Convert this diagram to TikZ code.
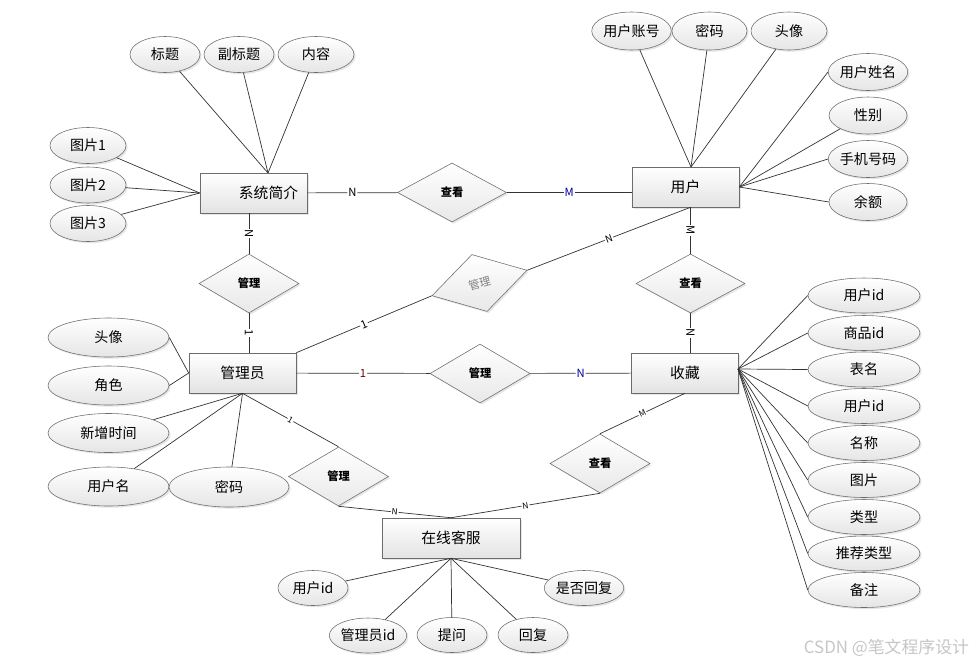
\documentclass[tikz,border=0pt]{standalone}
\usepackage{fontspec}
\setmainfont{Noto Sans CJK SC}
\usetikzlibrary{shapes.geometric,shadows}

\tikzset{
  entity/.style={rectangle,draw=gray!85!black,top color=white,bottom color=gray!22,
    drop shadow={opacity=0.2,shadow xshift=1.2pt,shadow yshift=-1.2pt},
    minimum width=2.675cm,minimum height=1cm,inner sep=0pt,font=\fontsize{10.5}{12}\selectfont},
  attr/.style={ellipse,draw=gray!85!black,top color=white,bottom color=gray!20,
    drop shadow={opacity=0.2,shadow xshift=1.2pt,shadow yshift=-1.2pt},
    minimum width=#1,minimum height=0.9cm,inner sep=0pt,font=\fontsize{10}{12}\selectfont},
  attr/.default=1.9cm,
  rel/.style={diamond,draw=gray!85!black,top color=white,bottom color=gray!18,
    drop shadow={opacity=0.2,shadow xshift=1.2pt,shadow yshift=-1.2pt},
    aspect=1.7,minimum width=2.5cm,minimum height=1.475cm,inner sep=0pt,
    font=\fontsize{8}{10}\selectfont\bfseries},
  card/.style={fill=white,inner sep=0.6pt,sloped,font=\fontsize{8}{9}\selectfont},
  cardsm/.style={card,font=\fontsize{6}{7}\selectfont},
  link/.style={draw=black!80,line width=0.5pt}
}

\begin{document}
\begin{tikzpicture}[x=0.025cm,y=-0.025cm]
\useasboundingbox (0,0) rectangle (979,667);

% entities
\node[entity] (sys) at (253.5,193) {\hspace{0.75cm}系统简介};
\node[entity] (user) at (685.5,187) {用户};
\node[entity] (admin) at (242.5,373) {管理员};
\node[entity] (fav) at (685,373) {收藏};
\node[entity,minimum width=3.45cm] (kefu) at (451,538) {在线客服};

% relations
\node[rel,minimum width=2.725cm] (r1) at (452,192.5) {查看};
\node[rel] (r2) at (249,283.5) {管理};
\node[rel,rotate=15,minimum width=2.46cm,text=gray,font=\fontsize{8}{10}\selectfont] (r3) at (479.5,283) {管理};
\node[rel,minimum width=2.725cm] (r4) at (690.5,283.5) {查看};
\node[rel] (r5) at (480,373.5) {管理};
\node[rel] (r6) at (600,463.5) {查看};
\node[rel] (r7) at (338.5,476.5) {管理};

% attributes of 系统简介
\node[attr=1.75cm] (s1) at (165,54.5) {标题};
\node[attr=1.75cm] (s2) at (239,54.5) {副标题};
\node[attr] (s3) at (316,54.5) {内容};
\node[attr] (s4) at (88,145.5) {图片1};
\node[attr] (s5) at (88,185) {图片2};
\node[attr] (s6) at (88,223.5) {图片3};

% attributes of 用户
\node[attr=1.925cm,minimum height=0.95cm] (u1) at (631.5,31) {用户账号};
\node[attr=1.875cm,minimum height=0.95cm] (u2) at (709.5,31) {密码};
\node[attr,minimum height=0.95cm] (u3) at (789,31) {头像};
\node[attr=1.95cm,minimum height=0.925cm] (u4) at (868,72) {用户姓名};
\node[attr=1.95cm,minimum height=0.925cm] (u5) at (868,115.5) {性别};
\node[attr=1.95cm,minimum height=0.925cm] (u6) at (868,159) {手机号码};
\node[attr=1.95cm,minimum height=0.925cm] (u7) at (868,202) {余额};

% attributes of 管理员
\node[attr=3.025cm,minimum height=0.975cm] (m1) at (108.5,337.5) {头像};
\node[attr=3.025cm,minimum height=0.975cm] (m2) at (108.5,385.5) {角色};
\node[attr=3.025cm,minimum height=0.975cm] (m3) at (108.5,433) {新增时间};
\node[attr=3.025cm,minimum height=0.975cm] (m4) at (108.5,486.5) {用户名};
\node[attr=3cm,minimum height=1cm] (m5) at (229,487) {密码};

% attributes of 收藏
\node[attr=2.8cm,minimum height=0.875cm] (f1) at (864,295.5) {用户id};
\node[attr=2.8cm,minimum height=0.875cm] (f2) at (864,333) {商品id};
\node[attr=2.8cm,minimum height=0.875cm] (f3) at (864,369.5) {表名};
\node[attr=2.8cm,minimum height=0.875cm] (f4) at (864,406) {用户id};
\node[attr=2.8cm,minimum height=0.875cm] (f5) at (864,443) {名称};
\node[attr=2.8cm,minimum height=0.875cm] (f6) at (864,480) {图片};
\node[attr=2.8cm,minimum height=0.875cm] (f7) at (864,517) {类型};
\node[attr=2.8cm,minimum height=0.875cm] (f8) at (864,553.5) {推荐类型};
\node[attr=2.8cm,minimum height=0.875cm] (f9) at (864,590) {备注};

% attributes of 在线客服
\node[attr=1.75cm,minimum height=0.875cm] (k1) at (313,588) {用户id};
\node[attr=1.75cm,minimum height=0.875cm] (k2) at (368,635.5) {管理员id};
\node[attr=1.75cm,minimum height=0.875cm] (k3) at (452,635) {提问};
\node[attr=1.75cm,minimum height=0.875cm] (k4) at (533,635) {回复};
\node[attr=1.8cm,minimum height=0.875cm] (k5) at (584,588) {是否回复};

\coordinate (sysT) at (268,173);
\coordinate (userT) at (691,167);
\coordinate (favE) at (738,369);

% relation links
\draw[link] (sys) -- node[card]{N} (r1);
\draw[link] (r1.east) -- node[card,text=blue!60!black]{M} (r1.east -| user.west);
\draw[link] (r2.north |- sys.south) -- node[card]{N} (r2);
\draw[link] (r2) -- node[card]{1} (r2 |- admin.north);
\draw[link] (admin.north east) -- node[card]{1} (r3.west);
\draw[link] (r3.east) -- node[card,font=\fontsize{7}{8}\selectfont]{N} (r4.north |- user.south);
\draw[link] (r4.north |- user.south) -- node[card]{M} (r4);
\draw[link] (r4) -- node[card]{N} (r4 |- fav.north);
\draw[link] (admin) -- node[card,text=red!45!black]{1} (r5);
\draw[link] (r5) -- node[card,text=blue!60!black]{N} (fav);
\draw[link] (r6.north) -- node[cardsm]{M} (fav.south);
\draw[link] (r6.south) -- node[cardsm]{N} (kefu.north);
\draw[link] (admin.south) -- node[cardsm]{1} (r7.north);
\draw[link] (r7.south) -- node[cardsm]{N} (kefu.north);

% attribute links
\draw[link] (s1) -- (sysT);
\draw[link] (s2) -- (sysT);
\draw[link] (s3) -- (sysT);
\draw[link] (s4) -- (sys.west);
\draw[link] (s5) -- (sys.west);
\draw[link] (s6) -- (sys.west);
\draw[link] (u1) -- (userT);
\draw[link] (u2) -- (userT);
\draw[link] (u3) -- (userT);
\draw[link] (u4.west) -- (user.east);
\draw[link] (u5.south west) -- (user.east);
\draw[link] (u6.west) -- (user.east);
\draw[link] (u7.west) -- (user.east);
\draw[link] (m1.east) -- (admin.west);
\draw[link] (m2.east) -- (admin.west);
\draw[link] (m3) -- (admin.south);
\draw[link] (m4) -- (admin.south);
\draw[link] (m5) -- (admin.south);
\draw[link] (f1.west) -- (favE);
\draw[link] (f2.west) -- (favE);
\draw[link] (f3.west) -- (favE);
\draw[link] (f4.west) -- (favE);
\draw[link] (f5.west) -- (favE);
\draw[link] (f6.west) -- (favE);
\draw[link] (f7.west) -- (favE);
\draw[link] (f8.west) -- (favE);
\draw[link] (f9.west) -- (favE);
\draw[link] (k1) -- (kefu.south);
\draw[link] (k2) -- (kefu.south);
\draw[link] (k3) -- (kefu.south);
\draw[link] (k4) -- (kefu.south);
\draw[link] (k5) -- (kefu.south);

\node[text=gray!45,font=\fontsize{12}{14}\selectfont,anchor=east] (mark) at (974,648) {CSDN @笔文程序设计};
\end{tikzpicture}
\end{document}
